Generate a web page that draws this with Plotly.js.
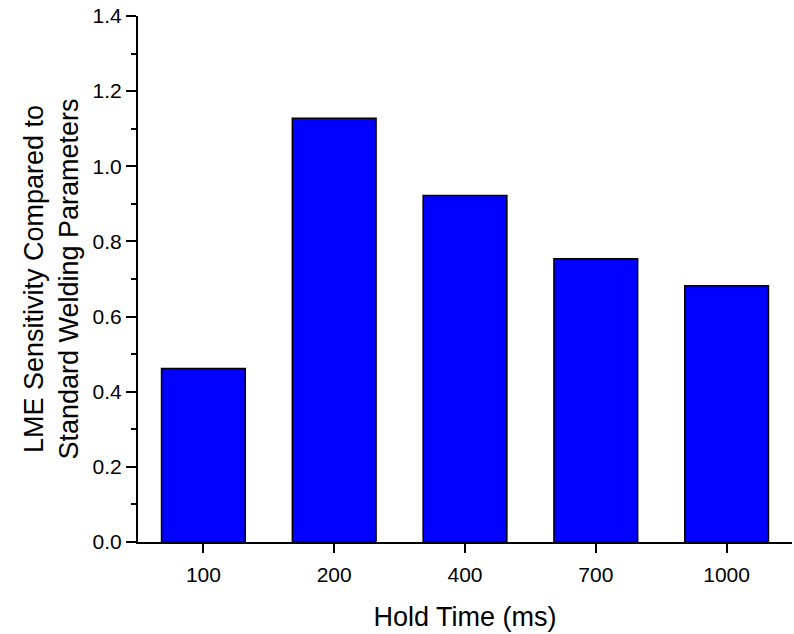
<!DOCTYPE html>
<html>
<head>
<meta charset="utf-8">
<script src="https://cdn.plot.ly/plotly-3.0.1.min.js"></script>
<style>html,body{margin:0;padding:0;background:#fff;}#chart{width:794px;height:634px;}</style>
</head>
<body>
<div id="chart"></div>
<script>
const holdTimes = ['100', '200', '400', '700', '1000'];
const sensitivity = [0.462, 1.128, 0.922, 0.754, 0.682];
const yTickVals = [0.0, 0.2, 0.4, 0.6, 0.8, 1.0, 1.2, 1.4];
const yTickText = ['0.0', '0.2', '0.4', '0.6', '0.8', '1.0', '1.2', '1.4'];

const FONT = 'Liberation Sans, Arial, sans-serif';

Plotly.newPlot('chart', [{
  type: 'bar',
  x: holdTimes,
  y: sensitivity,
  marker: {color: '#0000FF', line: {color: '#000000', width: 1.5}},
  hoverinfo: 'x+y'
}], {
  width: 794,
  height: 634,
  margin: {l: 138, r: 2, t: 16, b: 92},
  paper_bgcolor: '#ffffff',
  plot_bgcolor: '#ffffff',
  bargap: 0.36,
  showlegend: false,
  font: {family: FONT, color: '#000'},
  xaxis: {
    type: 'category',
    range: [-0.5, 4.5],
    showline: true, linecolor: '#000', linewidth: 2,
    ticks: 'outside', ticklen: 9, tickwidth: 2, tickcolor: '#000',
    ticklabelstandoff: 4,
    showgrid: false, zeroline: false,
    tickfont: {family: FONT, size: 21, color: '#000'},
    title: {text: 'Hold Time (ms)', font: {family: FONT, size: 27, color: '#000'}, standoff: 22},
    automargin: false
  },
  yaxis: {
    range: [0, 1.4],
    tickvals: yTickVals, ticktext: yTickText,
    showline: true, linecolor: '#000', linewidth: 2,
    ticks: 'outside', ticklen: 10, tickwidth: 2, tickcolor: '#000',
    minor: {dtick: 0.1, tick0: 0, ticks: 'outside', ticklen: 5, tickwidth: 2, tickcolor: '#000', showgrid: false},
    showgrid: false, zeroline: false,
    tickfont: {family: FONT, size: 21, color: '#000'},
    title: {text: 'LME Sensitivity Compared to<br>Standard Welding Parameters', font: {family: FONT, size: 27, color: '#000'}, standoff: 6},
    automargin: false
  }
}, {displayModeBar: false, staticPlot: true});
</script>
</body>
</html>
